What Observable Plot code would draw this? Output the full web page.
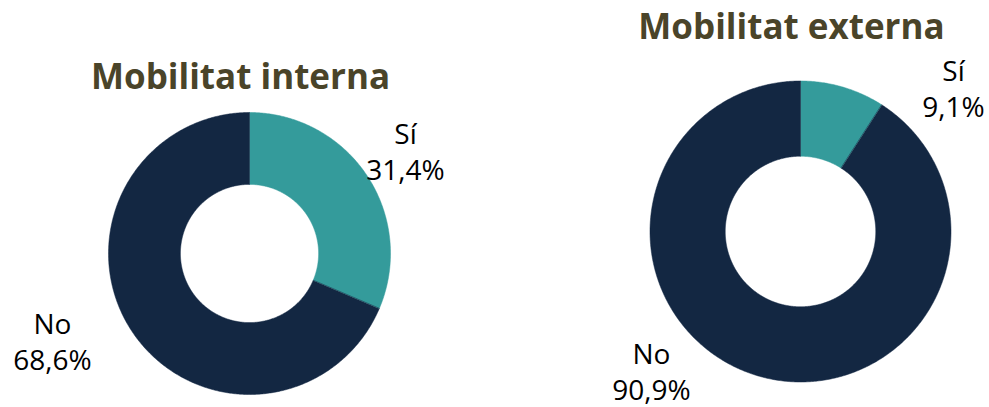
<!DOCTYPE html>
<html>
<head>
<meta charset="utf-8">
<script src="https://cdn.jsdelivr.net/npm/d3@7"></script>
<script src="https://cdn.jsdelivr.net/npm/@observablehq/plot@0.6"></script>
<style>
  html, body { margin: 0; padding: 0; background: #ffffff; }
  #chart { width: 989px; height: 407px; }
</style>
</head>
<body>
<div id="chart"></div>
<script>
// ---- data ----
const charts = ["Mobilitat interna", "Mobilitat externa"];
const categories = ["Sí", "No"];
const interna = [31.4, 68.6];
const externa = [9.1, 90.9];
const valueLabels = [["31,4%", "68,6%"], ["9,1%", "90,9%"]];

// ---- layout (positions/styles) ----
const W = 989, H = 407;
const colors = {"Sí": "#349b9b", "No": "#132742"};
const layout = [
  {cx: 249, cy: 253, r: 141, inner: 0.49, title: [240, 77],
   labels: [[405, 150], [52, 340]]},
  {cx: 800, cy: 231, r: 150.5, inner: 0.5, title: [791, 27],
   labels: [[953, 87], [651, 370]]}
];
const series = [interna, externa];

// build slice polygons from the values
const polys = [];
const labelRows = [];
const titleRows = [];
series.forEach((vals, ci) => {
  const L = layout[ci];
  const total = d3.sum(vals);
  let acc = 0;
  vals.forEach((v, si) => {
    const a0 = acc / total * 2 * Math.PI;
    acc += v;
    const a1 = acc / total * 2 * Math.PI;
    const n = Math.max(8, Math.ceil((a1 - a0) / 0.01));
    const id = ci + "-" + si;
    const pts = [];
    for (let k = 0; k <= n; k++) {
      const a = a0 + (a1 - a0) * k / n;
      pts.push({id, cat: categories[si], x: L.cx + L.r * Math.sin(a), y: L.cy - L.r * Math.cos(a)});
    }
    const ri = L.r * L.inner;
    for (let k = n; k >= 0; k--) {
      const a = a0 + (a1 - a0) * k / n;
      pts.push({id, cat: categories[si], x: L.cx + ri * Math.sin(a), y: L.cy - ri * Math.cos(a)});
    }
    polys.push(...pts);
    labelRows.push({x: L.labels[si][0], y: L.labels[si][1], text: categories[si] + "\n" + valueLabels[ci][si]});
  });
  titleRows.push({x: L.title[0], y: L.title[1], text: charts[ci]});
});

const plot = Plot.plot({
  width: W, height: H,
  margin: 0,
  x: {domain: [0, W], range: [0, W], axis: null},
  y: {domain: [0, H], range: [0, H], axis: null},
  color: {domain: categories, range: categories.map(c => colors[c])},
  style: {fontFamily: "'Open Sans', sans-serif", background: "#ffffff"},
  marks: [
    Plot.line(polys, {x: "x", y: "y", z: "id", fill: "cat", stroke: "cat", strokeWidth: 0.5, curve: "linear-closed"}),
    Plot.text(labelRows, {x: "x", y: "y", text: "text", fontSize: 28, lineHeight: 1.3, fill: "#000000", textAnchor: "middle"}),
    Plot.text(titleRows, {x: "x", y: "y", text: "text", fontSize: 35, fontWeight: "bold", fill: "#4a4429", textAnchor: "middle"})
  ]
});
document.getElementById("chart").appendChild(plot);
</script>
</body>
</html>
